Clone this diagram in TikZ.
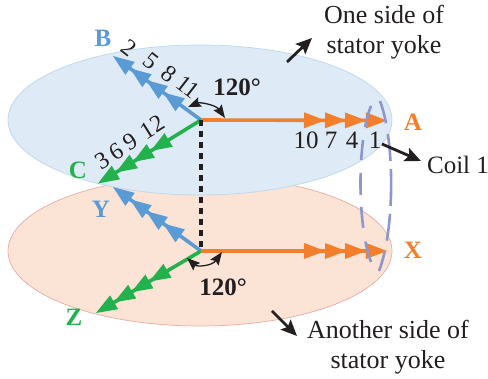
\documentclass[tikz,border=0pt]{standalone}
\usepackage{fontspec}
\setmainfont{Liberation Serif}
\usetikzlibrary{arrows.meta,decorations.markings}
\definecolor{cblue}{HTML}{5B9BD5}
\definecolor{cgreen}{HTML}{22B14C}
\definecolor{corange}{HTML}{F37E2B}
\definecolor{ccoil}{HTML}{8F96CC}
\definecolor{ctxt}{HTML}{231F20}
\definecolor{yokeblue}{HTML}{DEEBF6}
\definecolor{yokeblueline}{HTML}{BBD7EA}
\definecolor{yokepink}{HTML}{FBE3D6}
\definecolor{yokepinkline}{HTML}{E8ABA0}
\tikzset{
  headed/.style={
    preaction={draw=#1,line width=3.6pt,shorten >=8pt},
    decoration={markings,
      mark=at position -62pt with {\fill[#1] (0,0)--(-21,8)--(-21,-8)--cycle;},
      mark=at position -41pt with {\fill[#1] (0,0)--(-21,8)--(-21,-8)--cycle;},
      mark=at position -21pt with {\fill[#1] (0,0)--(-21,8)--(-21,-8)--cycle;},
      mark=at position 0.9999 with {\fill[#1] (0,0)--(-21,8)--(-21,-8)--cycle;}},
    postaction={decorate}},
  txt/.style={font=\fontsize{25}{30}\selectfont,text=ctxt,inner sep=0pt,align=center},
  bigtxt/.style={txt,font=\fontsize{26}{30}\selectfont},
  num/.style={font=\fontsize{24}{28}\selectfont,text=ctxt,inner sep=0pt},
  lab/.style={font=\fontsize{25}{30}\selectfont\bfseries,inner sep=0pt},
  callout/.style={draw=ctxt,line width=2.8pt,-{Stealth[length=16pt,width=14pt,inset=3pt]}},
  anglearc/.style={draw=ctxt,line width=1.3pt,{Stealth[length=13pt,width=10pt,inset=2pt]}-{Stealth[length=13pt,width=10pt,inset=2pt]}},
  coil/.style={draw=ccoil,line width=2.6pt},
}
\begin{document}
\begin{tikzpicture}[x=1pt,y=-1pt]
\useasboundingbox (0,0) rectangle (488,379);
% yokes
\draw[draw=yokepinkline,fill=yokepink,line width=.7pt] (200,251) ellipse [x radius=192,y radius=75];
\draw[draw=yokeblueline,fill=yokeblue,line width=.7pt] (200,120) ellipse [x radius=192,y radius=75];
% named points
\coordinate (o1) at (201,120);
\coordinate (o2) at (201,251);
\coordinate (A) at (387,120.5);
\coordinate (B) at (113,56);
\coordinate (C) at (98,183.5);
\coordinate (X) at (387,251);
\coordinate (Y) at (113,187);
\coordinate (Z) at (96,313);
% phase arrows
\path[headed=cblue] (o1) -- (B);
\path[headed=cgreen] (o1) -- (C);
\path[headed=cblue] (o2) -- (Y);
\path[headed=cgreen] (o2) -- (Z);
\path[headed=corange] (o1) -- (A);
\path[headed=corange] (o2) -- (X);
\draw[ctxt,line width=3.6pt,dash pattern=on 6.5pt off 4.5pt] (o1) -- (o2);
% coil
\coordinate (c1) at (380,101);
\coordinate (c2) at (379,271);
\coordinate (c3) at (371,106);
\coordinate (c4) at (371,262);
\draw[coil,dash pattern=on 23pt off 11pt on 27pt off 8pt on 37pt off 8pt on 27pt off 11pt on 30pt] (c1) .. controls (395,140) and (395,230) .. (c2);
\draw[coil,dash pattern=on 22pt off 13pt on 20pt off 13pt on 22pt off 12pt on 21pt off 14pt on 30pt] (c3) .. controls (357,140) and (357,225) .. (c4);
% angle arcs
\coordinate (a1) at (188,107);
\coordinate (a2) at (225,118);
\coordinate (a3) at (187,258);
\coordinate (a4) at (222,252);
\draw[anglearc] (a1) .. controls (200,102) and (216,105) .. (a2);
\draw[anglearc] (a3) .. controls (197,267) and (212,266) .. (a4);
% callouts
\coordinate (s1) at (287,62);
\coordinate (e1) at (312,38);
\coordinate (s2) at (382,144);
\coordinate (e2) at (421,161);
\coordinate (s3) at (272,311);
\coordinate (e3) at (297,336);
\draw[callout] (s1) -- (e1);
\draw[callout] (s2) -- (e2);
\draw[callout] (s3) -- (e3);
% phase labels
\node[lab,text=cblue] (lB) at (103,38) {B};
\node[lab,text=cgreen] (lC) at (78,170) {C};
\node[lab,text=corange] (lA) at (413,122) {A};
\node[lab,text=cblue] (lY) at (101,209) {Y};
\node[lab,text=cgreen] (lZ) at (74,317) {Z};
\node[lab,text=corange] (lX) at (413,250) {X};
% slot numbers
\node[num,rotate=-38] (n2) at (129,48) {2};
\node[num,rotate=-38] (n5) at (151,61) {5};
\node[num,rotate=-38] (n8) at (169,74) {8};
\node[num,rotate=-38] (n11) at (188,87) {11};
\node[num,rotate=32] (n3) at (102,161) {3};
\node[num,rotate=32] (n6) at (116,152) {6};
\node[num,rotate=32] (n9) at (130,142) {9};
\node[num,rotate=32] (n12) at (152,127) {12};
\node[txt] (n10) at (306,140) {10};
\node[txt] (n7) at (331,140) {7};
\node[txt] (n4) at (352,140) {4};
\node[txt] (n1) at (375,140) {1};
% texts
\node[txt,font=\fontsize{25}{30}\selectfont\bfseries] (t1) at (237,87) {120°};
\node[txt,font=\fontsize{25}{30}\selectfont\bfseries] (t2) at (223,287) {120°};
\node[bigtxt] (t3) at (384,32) {One side of\\stator yoke};
\node[bigtxt] (t4) at (388,347) {Another side of\\stator yoke};
\node[txt] (t5) at (458,165) {Coil 1};
\end{tikzpicture}
\end{document}
